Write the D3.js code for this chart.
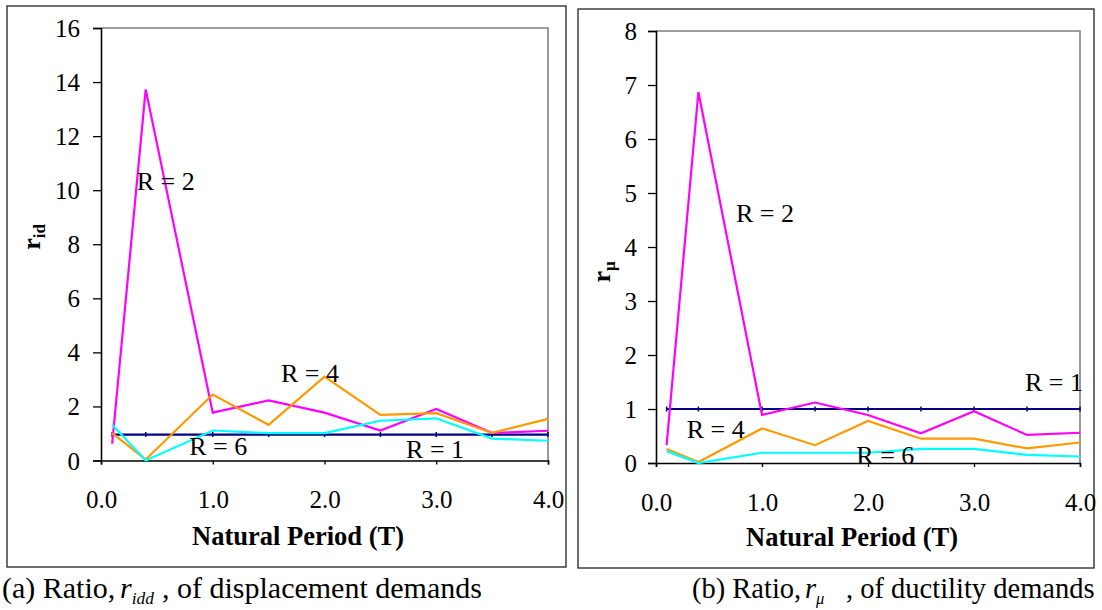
<!DOCTYPE html>
<meta charset="utf-8">
<title>Ratio of demands</title>
<style>
  body { margin: 0; background: #fff; }
  text { font-family: "Liberation Serif", "Times New Roman", serif; }
</style>
<body>
<svg id="chart" width="1102" height="610"></svg>
<script src="https://d3js.org/d3.v7.min.js"></script>
<script>

// natural periods (T) shared by every series
var periods = [0.1, 0.4, 1.0, 1.5, 2.0, 2.5, 3.0, 3.5, 4.0];

// (a) displacement demand ratio r_idd
var riddR1 = [0.96, 0.96, 0.96, 0.96, 0.96, 0.96, 0.96, 0.96, 0.96];
var riddR2 = [0.62, 13.73, 1.77, 2.22, 1.77, 1.11, 1.91, 1.02, 1.10];
var riddR4 = [1.01, 0.04, 2.44, 1.32, 3.10, 1.69, 1.75, 1.02, 1.54];
var riddR6 = [1.32, 0.00, 1.11, 1.01, 1.01, 1.47, 1.56, 0.81, 0.73];

// (b) ductility demand ratio r_mu
var rmuR1 = [1.00, 1.00, 1.00, 1.00, 1.00, 1.00, 1.00, 1.00, 1.00];
var rmuR2 = [0.33, 6.87, 0.89, 1.12, 0.89, 0.55, 0.96, 0.52, 0.56];
var rmuR4 = [0.26, 0.02, 0.64, 0.33, 0.78, 0.45, 0.45, 0.27, 0.38];
var rmuR6 = [0.22, 0.00, 0.19, 0.19, 0.19, 0.26, 0.26, 0.15, 0.12];

var xTicks = [0, 1, 2, 3, 4];
var riddTicks = [0, 2, 4, 6, 8, 10, 12, 14, 16];
var rmuTicks = [0, 1, 2, 3, 4, 5, 6, 7, 8];

var seriesNames = ["R = 1", "R = 2", "R = 4", "R = 6"];
var colors = { "R = 1": "#000080", "R = 2": "#ff00ff", "R = 4": "#ff9900", "R = 6": "#00ffff" };

var svg = d3.select("#chart");

function drawPanel(p) {
  var x = d3.scaleLinear().domain([0, 4]).range([p.left, p.right]);
  var y = d3.scaleLinear().domain([0, p.ymax]).range([p.bottom, p.top]);

  // outer panel frame
  svg.append("rect")
      .attr("x", p.frame[0]).attr("y", p.frame[1])
      .attr("width", p.frame[2]).attr("height", p.frame[3])
      .attr("fill", "none").attr("stroke", "#222").attr("stroke-width", 1.3);

  // grey top / right border of the plot area
  svg.append("path")
      .attr("d", "M" + p.left + "," + p.top + "H" + p.right + "V" + p.bottom)
      .attr("fill", "none").attr("stroke", "#808080").attr("stroke-width", 1.6);

  var yAxis = svg.append("g")
      .attr("transform", "translate(" + p.left + ",0)")
      .call(d3.axisLeft(y).tickValues(p.yticks).tickSize(8).tickPadding(p.yPad).tickFormat(d3.format("d")));
  var xAxis = svg.append("g")
      .attr("transform", "translate(0," + p.bottom + ")")
      .call(d3.axisBottom(x).tickValues(xTicks).tickSize(4).tickPadding(26).tickFormat(d3.format(".1f")));

  [yAxis, xAxis].forEach(function (g) {
    g.select(".domain").attr("stroke", "#000").attr("stroke-width", 1.6);
    g.selectAll(".tick line").attr("stroke", "#000").attr("stroke-width", 1.3);
    g.selectAll("text").attr("font-size", 25).attr("fill", "#000")
      .style("font-family", "'Liberation Serif', 'Times New Roman', serif");
  });
  yAxis.selectAll("text").attr("dy", "0.34em");

  var line = d3.line()
      .x(function (d) { return x(d[0]); })
      .y(function (d) { return y(d[1]); });

  seriesNames.forEach(function (name) {
    var pts = periods.map(function (t, i) { return [t, p.series[name][i]]; });
    svg.append("path")
        .datum(pts)
        .attr("d", line)
        .attr("fill", "none")
        .attr("stroke", colors[name])
        .attr("stroke-width", 2.2)
        .attr("stroke-linejoin", "miter");
    if (name === "R = 1") {
      // small dash markers on the R = 1 line
      svg.selectAll(null).data(pts).enter().append("line")
          .attr("x1", function (d) { return x(d[0]); })
          .attr("x2", function (d) { return x(d[0]); })
          .attr("y1", function (d) { return y(d[1]) - 2.5; })
          .attr("y2", function (d) { return y(d[1]) + 2.5; })
          .attr("stroke", colors[name]).attr("stroke-width", 1.5);
    }
  });

  // series labels, placed in data units
  p.labels.forEach(function (l) {
    svg.append("text")
        .attr("x", x(l[1])).attr("y", y(l[2]))
        .attr("font-size", 26)
        .text(l[0]);
  });

  svg.append("text")
      .attr("x", p.xTitle[0])
      .attr("y", p.xTitle[1])
      .attr("text-anchor", "middle")
      .attr("font-size", 26.5)
      .attr("font-weight", "bold")
      .text("Natural Period (T)");

  var yt = svg.append("text")
      .attr("transform", "translate(" + p.yTitle[0] + "," + p.yTitle[1] + ") rotate(-90)")
      .attr("text-anchor", "middle")
      .attr("font-size", 26)
      .attr("font-weight", "bold");
  yt.append("tspan").text("r");
  yt.append("tspan").attr("dy", 5).attr("font-size", 17).text(p.ySub);

  // caption below the panel
  var c = p.caption;
  var cap = svg.append("text")
      .attr("y", c.y)
      .attr("font-size", c.size);
  cap.append("tspan").attr("x", c.x[0]).text(c.parts[0]);
  cap.append("tspan").attr("x", c.x[1]).attr("font-style", "italic").text("r");
  cap.append("tspan").attr("font-style", "italic").attr("font-size", c.size * 0.58).attr("dy", 6).text(c.parts[1]);
  cap.append("tspan").attr("x", c.x[2]).attr("dy", -6).text(c.parts[2]);
}

drawPanel({
  frame: [7, 6, 559, 561],
  left: 101, right: 548, top: 28, bottom: 460.5,
  ymax: 16, yticks: riddTicks, yPad: 13,
  series: { "R = 1": riddR1, "R = 2": riddR2, "R = 4": riddR4, "R = 6": riddR6 },
  labels: [["R = 2", 0.32, 10.0], ["R = 4", 1.61, 2.9], ["R = 6", 0.79, 0.2], ["R = 1", 2.73, 0.11]],
  xTitle: [298, 545],
  yTitle: [40, 237], ySub: "id",
  caption: { x: [2, 120, 162], y: 598, size: 30,
             parts: ["(a) Ratio,", "idd", ", of displacement demands"] }
});

drawPanel({
  frame: [578, 9, 516, 559],
  left: 656, right: 1080, top: 31, bottom: 463,
  ymax: 8, yticks: rmuTicks, yPad: 11,
  series: { "R = 1": rmuR1, "R = 2": rmuR2, "R = 4": rmuR4, "R = 6": rmuR6 },
  labels: [["R = 2", 0.755, 4.46], ["R = 1", 3.48, 1.33], ["R = 4", 0.29, 0.46], ["R = 6", 1.89, -0.02]],
  xTitle: [852, 546],
  yTitle: [610, 272], ySub: "μ",
  caption: { x: [692, 805, 846], y: 598, size: 28.5,
             parts: ["(b) Ratio,", "μ", ", of ductility demands"] }
});

</script>
</body>
